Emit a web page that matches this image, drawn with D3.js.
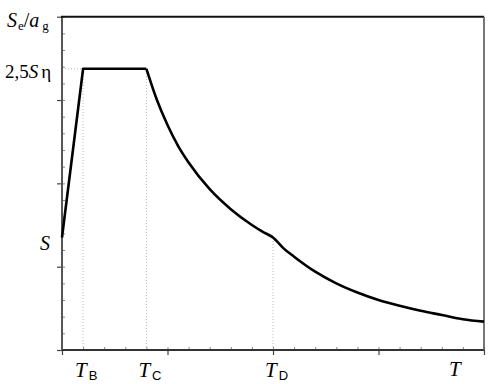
<!DOCTYPE html>
<html><head><meta charset="utf-8">
<script src="https://cdn.jsdelivr.net/npm/d3@7"></script>
<style>body{margin:0;background:#fff}svg{display:block}</style>
</head><body>
<script>
// Data
const periodT = [0, 0.1, 0.4, 0.45, 0.5, 0.55, 0.6, 0.7, 0.8, 0.9, 0.95, 1.0, 1.05, 1.1, 1.2, 1.3, 1.4, 1.5, 1.6, 1.7, 1.8, 1.9, 2.0];
const spectrum = [1.35, 3.375, 3.375, 3.0, 2.7, 2.45, 2.25, 1.93, 1.69, 1.50, 1.42, 1.35, 1.22, 1.12, 0.94, 0.80, 0.69, 0.60, 0.53, 0.47, 0.42, 0.37, 0.34];
const xMarkValues = [0.1, 0.4, 1.0];
const xMarkSubs = ["B", "C", "D"];
const plateau = 3.375;
const sLevel = 1.35;

const W = 494, H = 384;
const svg = d3.select("body").append("svg").attr("width", W).attr("height", H);
const x = d3.scaleLinear().domain([0, 2]).range([62, 484]);
const y = d3.scaleLinear().domain([0, 4]).range([350, 16.7]);

const axisCol = "#444";
// gridlines (dotted)
const g = svg.append("g").attr("stroke", "#b8b8b8").attr("stroke-width", 1).attr("stroke-dasharray", "1,2");
xMarkValues.forEach((t, i) => {
  const top = i < 2 ? plateau : sLevel;
  g.append("line").attr("x1", x(t)).attr("x2", x(t)).attr("y1", y(0)).attr("y2", y(top));
});
g.append("line").attr("x1", x(0)).attr("x2", x(0.1)).attr("y1", y(plateau)).attr("y2", y(plateau));

// x axis minor ticks (inside) and major ticks (outside)
const xMinor = d3.range(0, 2.0001, 0.1);
const xMajor = d3.range(0, 2.0001, 0.5);
svg.append("g").attr("transform", `translate(0,${y(0)})`)
  .call(d3.axisBottom(x).tickValues(xMinor).tickSize(-3).tickFormat(""))
  .call(a => a.select(".domain").remove())
  .call(a => a.selectAll("line").attr("stroke", "#888"));
svg.append("g").attr("transform", `translate(0,${y(0)})`)
  .call(d3.axisBottom(x).tickValues(xMajor).tickSize(5).tickFormat(""))
  .call(a => a.select(".domain").remove())
  .call(a => a.selectAll("line").attr("stroke", axisCol).attr("stroke-width", 1.2));

// y axis minor / major
const yMinor = d3.range(0, 4.0001, 0.2);
const yMajor = d3.range(0, 4.0001, 1);
svg.append("g").attr("transform", `translate(${x(0)},0)`)
  .call(d3.axisLeft(y).tickValues(yMinor).tickSize(-3).tickFormat(""))
  .call(a => a.select(".domain").remove())
  .call(a => a.selectAll("line").attr("stroke", "#888"));
svg.append("g").attr("transform", `translate(${x(0)},0)`)
  .call(d3.axisLeft(y).tickValues(yMajor).tickSize(5).tickFormat(""))
  .call(a => a.select(".domain").remove())
  .call(a => a.selectAll("line").attr("stroke", axisCol).attr("stroke-width", 1.2));

// frame
svg.append("line").attr("x1", x(0)).attr("x2", x(2)).attr("y1", y(0)).attr("y2", y(0)).attr("stroke", "#333").attr("stroke-width", 2.2);
svg.append("line").attr("x1", x(0)).attr("x2", x(0)).attr("y1", y(0)).attr("y2", y(4)).attr("stroke", "#555").attr("stroke-width", 2);
svg.append("line").attr("x1", x(0) - 1).attr("x2", x(2)).attr("y1", y(4)).attr("y2", y(4)).attr("stroke", "#111").attr("stroke-width", 2);
svg.append("line").attr("x1", x(2)).attr("x2", x(2)).attr("y1", y(4)).attr("y2", y(0)).attr("stroke", "#555").attr("stroke-width", 1.6);

// spectrum curve
const pts = periodT.map((t, i) => [t, spectrum[i]]);
const lineLin = d3.line().x(d => x(d[0])).y(d => y(d[1]));
const lineSmooth = d3.line().x(d => x(d[0])).y(d => y(d[1])).curve(d3.curveMonotoneX);
svg.append("path").attr("d", lineLin(pts.slice(0, 3))).attr("fill", "none")
  .attr("stroke", "#000").attr("stroke-width", 2.6).attr("stroke-linejoin", "round");
svg.append("path").attr("d", lineSmooth(pts.slice(2))).attr("fill", "none")
  .attr("stroke", "#000").attr("stroke-width", 2.6).attr("stroke-linejoin", "round");

// labels
const serif = "'Liberation Serif', 'DejaVu Serif', serif";
const sans = "'Liberation Sans', Arial, sans-serif";
xMarkValues.forEach((t, i) => {
  const tx = svg.append("text").attr("x", x(t) - 8).attr("y", 377).attr("font-family", serif).attr("font-size", 21);
  tx.append("tspan").attr("font-style", "italic").text("T");
  tx.append("tspan").attr("font-family", sans).attr("font-size", 13).attr("dx", 2).attr("dy", 3).text(xMarkSubs[i]);
});
svg.append("text").attr("x", 449).attr("y", 376).attr("font-family", serif).attr("font-size", 21)
  .attr("font-style", "italic").text("T");

// y labels
const yl = svg.append("text").attr("x", 5).attr("y", y(plateau) + 9).attr("font-family", serif).attr("font-size", 19);
yl.append("tspan").text("2,5");
yl.append("tspan").attr("font-style", "italic").text("S");
yl.append("tspan").attr("dx", 3).text("η");

svg.append("text").attr("x", 40).attr("y", y(sLevel) + 12).attr("font-family", serif).attr("font-size", 20)
  .attr("font-style", "italic").text("S");

const tl = svg.append("text").attr("x", 7).attr("y", 27).attr("font-family", serif).attr("font-size", 20);
tl.append("tspan").attr("font-style", "italic").text("S");
tl.append("tspan").attr("font-size", 13).attr("dx", 1).attr("dy", 3).text("e");
tl.append("tspan").attr("dy", -3).text("/");
tl.append("tspan").attr("font-style", "italic").text("a");
tl.append("tspan").attr("font-size", 13).attr("dx", 3).attr("dy", 3).text("g");
</script>
</body></html>
